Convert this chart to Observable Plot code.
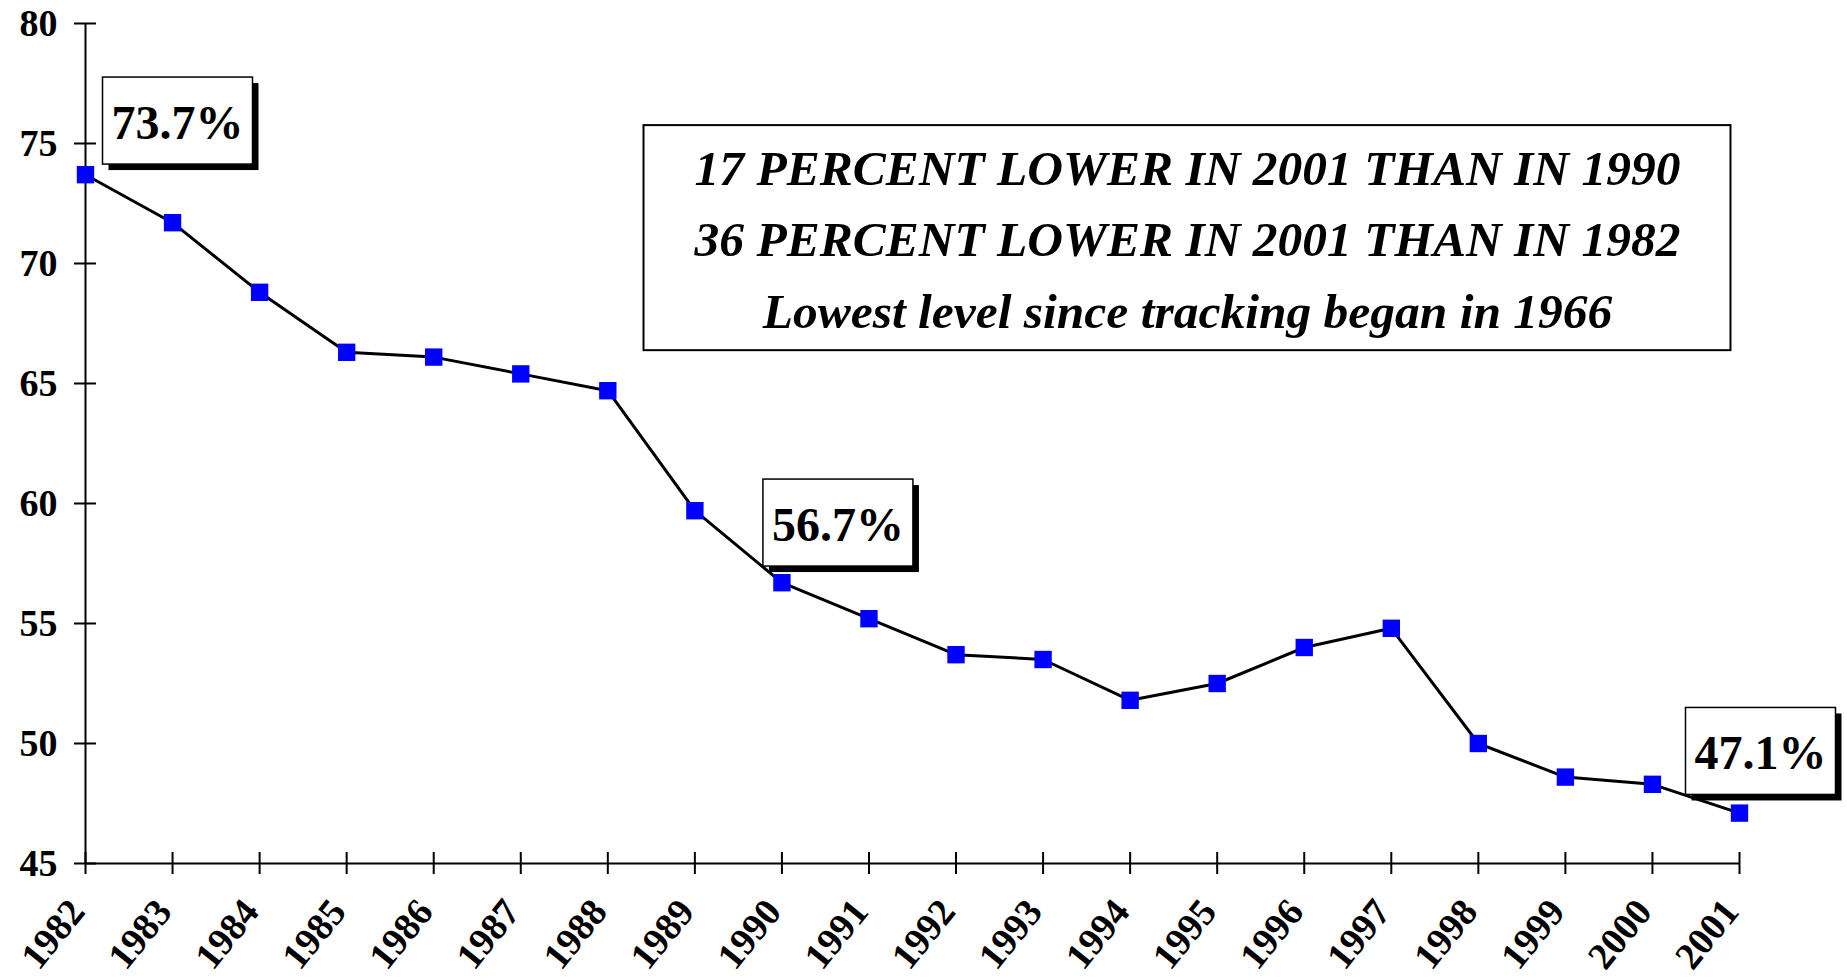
<!DOCTYPE html>
<html><head><meta charset="utf-8">
<script src="https://cdn.jsdelivr.net/npm/d3@7"></script>
<script src="https://cdn.jsdelivr.net/npm/@observablehq/plot@0.6"></script>
<style>html,body{margin:0;padding:0;background:#fff;overflow:hidden}</style>
</head><body><div id="chart"></div>
<script>
const years = [1982,1983,1984,1985,1986,1987,1988,1989,1990,1991,1992,1993,1994,1995,1996,1997,1998,1999,2000,2001];
const values = [73.7,71.7,68.8,66.3,66.1,65.4,64.7,59.7,56.7,55.2,53.7,53.5,51.8,52.5,54.0,54.8,50.0,48.6,48.3,47.1];
const yTicks = [45,50,55,60,65,70,75,80];
const yDomain = [45,80];
const labeledYears = [1982,1990,2001];
const boxLines = [
  "17 PERCENT LOWER IN 2001 THAN IN 1990",
  "36 PERCENT LOWER IN 2001 THAN IN 1982",
  "Lowest level since tracking began in 1966"
];

const data = years.map((year,i)=>({year, value: values[i]}));
const serif = "'Liberation Serif', 'Times New Roman', serif";
const labelOffsets = {1982:[92,-51], 1990:[56,-57], 2001:[21,-59]};

const plot = Plot.plot({
  width: 1847, height: 978,
  marginLeft: 85, marginRight: 108, marginTop: 23, marginBottom: 115,
  style: {fontFamily: serif, fontSize: "36px", fontWeight: "bold", color: "black", background: "white"},
  x: {domain: [years[0], years[years.length-1]]},
  y: {domain: yDomain},
  marks: [
    Plot.ruleY([yDomain[0]], {stroke: "black", strokeWidth: 2}),
    Plot.ruleX([years[0]], {stroke: "black", strokeWidth: 2}),
    Plot.axisY(yTicks, {tickSize: 22, dx: 11, tickPadding: 17, strokeWidth: 2, label: null, fontSize: 38}),
    Plot.axisX(years, {tickSize: 22, dy: -11, strokeWidth: 2, label: null, fill: "none"}),
    Plot.axisX(years, {tickSize: 0, tickRotate: -51, textAnchor: "end", lineAnchor: "top", tickPadding: 32, dx: -20,
      label: null, fontSize: 38, tickFormat: d => String(d)}),
    Plot.line(data, {x: "year", y: "value", stroke: "black", strokeWidth: 3}),
    Plot.dot(data, {x: "year", y: "value", symbol: "square", r: 9.8, fill: "#0000ff"}),
    ...labeledYears.map(yr => Plot.text(data.filter(d => d.year === yr), {
      x: "year", y: "value", text: d => d.value.toFixed(1) + "%",
      dx: labelOffsets[yr][0], dy: labelOffsets[yr][1],
      fontSize: 48, fontWeight: "bold", fill: "black", ariaDescription: "value-label"
    })),
    Plot.text([boxLines.join("\n")], {
      text: d => d, frameAnchor: "top", lineAnchor: "top", lineHeight: 1.44,
      dx: 275, dy: 111, fontSize: 49.5, fontStyle: "italic", fontWeight: "bold", fill: "black",
      ariaDescription: "note-box"
    })
  ]
});
document.getElementById("chart").append(plot);

function boxify(label, pad, shadow, sw) {
  plot.querySelectorAll(`g[aria-description="${label}"]`).forEach(g => {
    Array.from(g.querySelectorAll("text")).forEach(t => {
      const b = t.getBBox();
      const tr = t.getAttribute("transform");
      const mk = (dx, dy, fill, stroke) => {
        const r = document.createElementNS("http://www.w3.org/2000/svg", "rect");
        r.setAttribute("x", b.x - pad.l + dx);
        r.setAttribute("y", b.y - pad.t + dy);
        r.setAttribute("width", b.width + pad.l + pad.r);
        r.setAttribute("height", b.height + pad.t + pad.b);
        r.setAttribute("fill", fill);
        r.setAttribute("stroke", stroke);
        r.setAttribute("stroke-width", sw);
        if (tr) r.setAttribute("transform", tr);
        return r;
      };
      const parent = t.parentNode;
      if (shadow) parent.insertBefore(mk(shadow, shadow, "black", "none"), t);
      parent.insertBefore(mk(0, 0, "white", "black"), t);
    });
  });
}
boxify("value-label", {l: 9, r: 9, t: 19, b: 15}, 6, 1.5);
boxify("note-box", {l: 50, r: 50, t: 16, b: 11.5}, 0, 2);
</script>
</body></html>
